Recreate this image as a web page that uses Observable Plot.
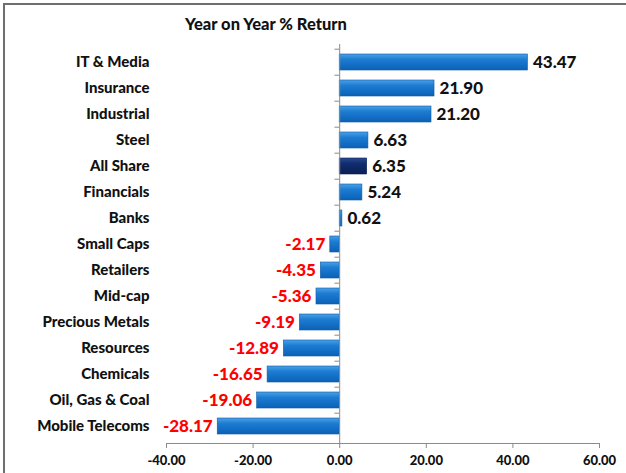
<!DOCTYPE html>
<html>
<head>
<meta charset="utf-8">
<script src="https://cdn.jsdelivr.net/npm/d3@7"></script>
<script src="https://cdn.jsdelivr.net/npm/@observablehq/plot@0.6"></script>
<style>
  html, body { margin: 0; padding: 0; width: 626px; height: 473px; overflow: hidden; background: #fff; }
  #frame { position: absolute; left: 3px; top: 3px; width: 700px; height: 600px; border: 2px solid #6e6e6e; box-sizing: border-box; }
  #title { position: absolute; left: 0; top: 14px; width: 532px; text-align: center; font: 900 16.5px Lato, sans-serif; color: #111; }
  #chart { position: absolute; left: 0; top: 40px; }
</style>
</head>
<body>
<div id="frame"></div>
<div id="title">Year on Year % Return</div>
<div id="chart"></div>
<script>
const categories = ["IT & Media","Insurance","Industrial","Steel","All Share","Financials","Banks","Small Caps","Retailers","Mid-cap","Precious Metals","Resources","Chemicals","Oil, Gas & Coal","Mobile Telecoms"];
const values = [43.47, 21.90, 21.20, 6.63, 6.35, 5.24, 0.62, -2.17, -4.35, -5.36, -9.19, -12.89, -16.65, -19.06, -28.17];
const highlight = "All Share";
const xTicks = [-40, -20, 0, 20, 40, 60];

const data = categories.map((c, i) => ({category: c, value: values[i]}));
const pos = data.filter(d => d.value >= 0);
const neg = data.filter(d => d.value < 0);
const fmt = v => v.toFixed(2);
const axisColor = "#8a8a8a";

const chart = Plot.plot({
  width: 626,
  height: 433,
  marginTop: 4,
  marginBottom: 30,
  marginLeft: 166,
  marginRight: 27,
  style: {fontFamily: "Lato, sans-serif", background: "transparent", overflow: "visible"},
  x: {domain: [-40, 60]},
  y: {domain: categories, paddingInner: 0.4, paddingOuter: 0.2},
  marks: [
    Plot.barX(data, {
      y: "category", x: "value",
      fill: d => d.category === highlight ? "url(#gradDark)" : "url(#gradBlue)",
      stroke: d => d.category === highlight ? "#0a1d52" : "#0b5aa6",
      strokeWidth: 0.6
    }),
    Plot.ruleX([0], {stroke: axisColor, strokeWidth: 1}),
    Plot.ruleY(categories, {y: d => d, x1: 0, x2: -1.1, dy: -13.3, stroke: axisColor, strokeWidth: 1}),
    Plot.frame({anchor: "bottom", stroke: axisColor}),
    Plot.axisX({ticks: xTicks, tickFormat: fmt, tickSize: 5, tickPadding: 7, stroke: axisColor,
      fill: "#111", fontSize: 13, fontWeight: 900, label: null}),
    Plot.axisY({tickSize: 0, tickPadding: 17, fill: "#111", fontSize: 15, fontWeight: 900, label: null}),
    Plot.text(pos, {
      y: "category", x: "value", text: d => fmt(d.value),
      textAnchor: "start", dx: 5, fill: "#111", fontSize: 17, fontWeight: 900
    }),
    Plot.text(neg, {
      y: "category", x: "value", text: d => fmt(d.value),
      textAnchor: "end", dx: -5, fill: "#ff0000", fontSize: 17, fontWeight: 900
    })
  ]
});

const svgns = "http://www.w3.org/2000/svg";
const defs = document.createElementNS(svgns, "defs");
defs.innerHTML = `
  <linearGradient id="gradBlue" x1="0" y1="0" x2="0" y2="1">
    <stop offset="0" stop-color="#4aa0e6"/>
    <stop offset="0.35" stop-color="#1c7cd2"/>
    <stop offset="1" stop-color="#0a62b6"/>
  </linearGradient>
  <linearGradient id="gradDark" x1="0" y1="0" x2="0" y2="1">
    <stop offset="0" stop-color="#2a4a90"/>
    <stop offset="0.35" stop-color="#102d6e"/>
    <stop offset="1" stop-color="#0a1f55"/>
  </linearGradient>`;
chart.insertBefore(defs, chart.firstChild);
document.getElementById("chart").appendChild(chart);
</script>
</body>
</html>
